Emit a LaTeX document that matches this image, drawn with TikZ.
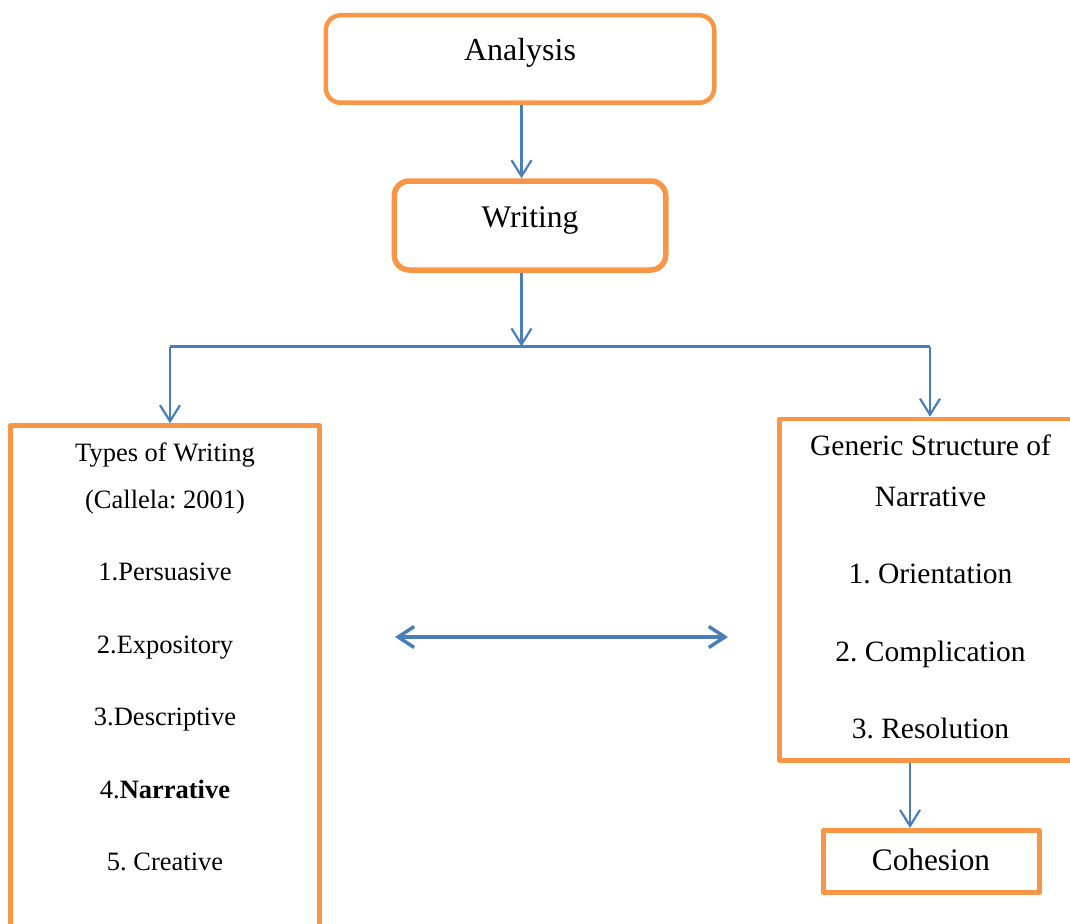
\documentclass[tikz,border=0pt]{standalone}
\usepackage{fontspec}
\setmainfont{Liberation Serif}
\usetikzlibrary{arrows.meta}
\definecolor{boxorange}{HTML}{F79646}
\definecolor{arrowblue}{HTML}{4A7EBB}
\frenchspacing
\begin{document}
\frenchspacing
\begin{tikzpicture}[x=1pt,y=-1pt,
  roundbox/.style={draw=boxorange, rounded corners=15pt, inner sep=0pt, line join=round},
  plainbox/.style={draw=boxorange, inner sep=0pt, line width=4.5pt, line join=round},
  conn/.style={draw=arrowblue, line width=2.2pt, -{Straight Barb[length=16pt,width=20pt]}},
  plainline/.style={draw=arrowblue, line width=2.2pt},
  dconn/.style={draw=arrowblue, line width=3.5pt, {Straight Barb[length=16pt,width=21pt]}-{Straight Barb[length=16pt,width=21pt]}}
]
\useasboundingbox (0,0) rectangle (1070,923);

% top boxes
\node[roundbox, line width=4.5pt, minimum width=388.5pt, minimum height=87.5pt,
      font=\fontsize{32}{38}\selectfont, text height=24pt, text depth=20pt]
      (analysis) at (520,59) {Analysis};
\node[roundbox, line width=5.5pt, minimum width=271.5pt, minimum height=89pt,
      font=\fontsize{31.5}{38}\selectfont, text height=24pt, text depth=19.6pt]
      (writing) at (530,225.5) {Writing};

% left box
\node[plainbox, anchor=north west] (types) at (8.25,423.25)
  {\parbox[t][574.5pt][t]{309pt}{\centering\frenchspacing\fontsize{26.5}{46.5}\selectfont
   \rule{0pt}{36pt}Types of Writing\\
   (Callela: 2001)\\[26pt]
   1.Persuasive\\[26pt]
   2.Expository\\[26pt]
   3.Descriptive\\[26pt]
   4.\textbf{Narrative}\\[26pt]
   5. Creative}};

% right box
\node[plainbox, anchor=north west] (generic) at (777.25,416.75)
  {\parbox[t][341.5pt][t]{302pt}{\centering\frenchspacing\fontsize{29.5}{51.7}\selectfont
   \rule{0pt}{36pt}Generic Structure of\\
   Narrative\\[25.5pt]
   1. Orientation\\[25.5pt]
   2. Complication\\[25.5pt]
   3. Resolution}};

% cohesion
\node[plainbox, line width=5pt, minimum width=216pt, minimum height=62pt,
      font=\fontsize{31.3}{38}\selectfont, text height=22pt, text depth=5pt]
      (cohesion) at (931,861.5) {Cohesion};

% connectors
\coordinate (ax) at (521.5,0);
\coordinate (junc) at (521.5,346.5);
\coordinate (jl) at (170,346.5);
\coordinate (jr) at (930,346.5);
\coordinate (cx) at (910,0);
\coordinate (dl) at (395,637);
\coordinate (dr) at (728,637);

\draw[conn] (analysis.south -| ax) -- (writing.north -| ax);
\draw[conn] (writing.south -| ax) -- (junc);
\draw[plainline] (jl) -- (jr);
\draw[conn] (jl) -- (types.north -| jl);
\draw[conn] (jr) -- (generic.north -| jr);
\draw[conn] (generic.south -| cx) -- (cohesion.north -| cx);
\draw[dconn] (dl) -- (dr);
\end{tikzpicture}
\end{document}
